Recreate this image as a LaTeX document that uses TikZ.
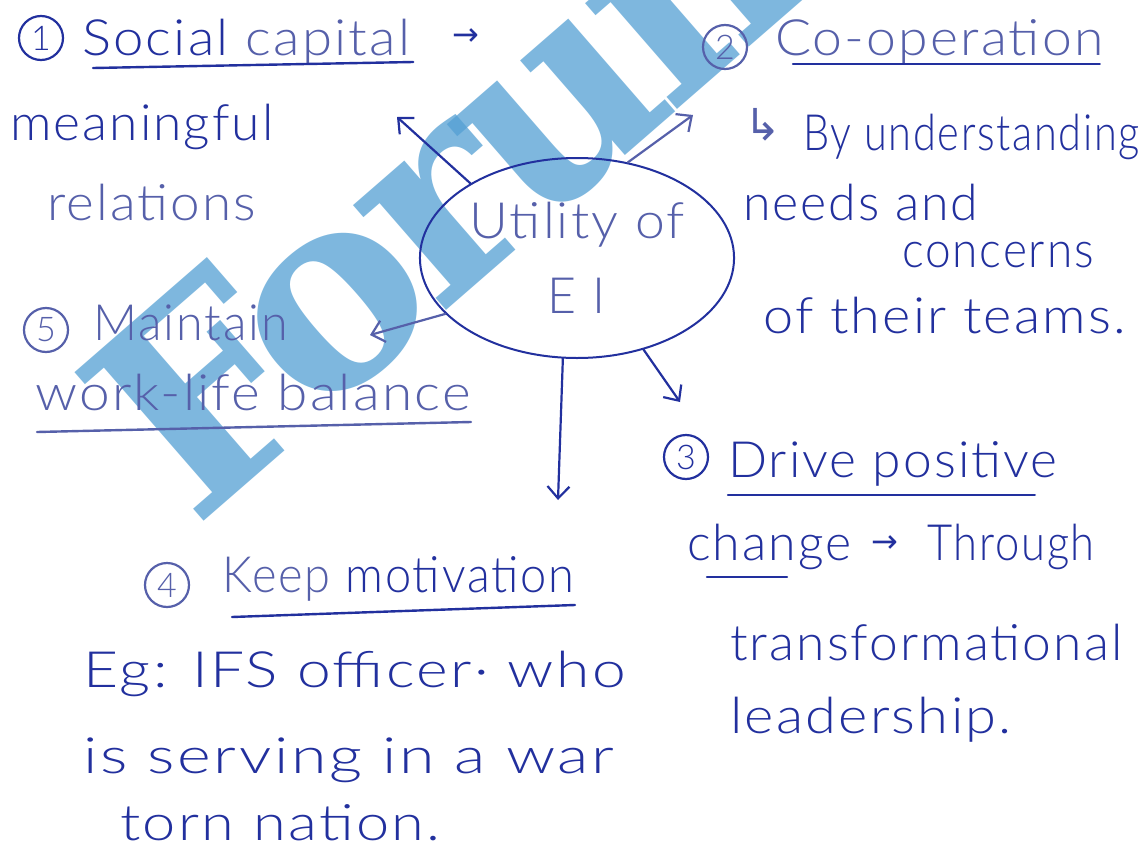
\documentclass[tikz,border=0pt]{standalone}
\usepackage{graphicx}
\usepackage{fontspec}
\setmainfont{Lato Light}[LetterSpace=4]
\newfontfamily\symfont{DejaVu Sans}
\newfontfamily\markfont{DejaVu Serif}
\usetikzlibrary{shapes.geometric,arrows.meta,positioning}
\definecolor{ink}{RGB}{34,48,158}
\definecolor{pencil}{RGB}{86,96,170}
\definecolor{mark}{RGB}{84,160,212}
\newcommand{\stretchx}[2]{\scalebox{#1}[1]{#2}}
\tikzset{
  hand/.style={text=ink, font=\fontsize{50}{56}\selectfont, inner sep=0pt, anchor=base west},
  soft/.style={hand, text=pencil},
  numc/.style={circle, draw=ink, line width=2.2pt, minimum size=44pt, inner sep=0pt,
    text=ink, font=\fontsize{34}{34}\selectfont},
  uline/.style={draw=ink, line width=2.4pt, line cap=round},
  conn/.style={draw=ink, line width=2.2pt, line cap=round,
    -{Straight Barb[length=12pt,width=22pt,line width=2.2pt]}},
}
\begin{document}
\begin{tikzpicture}[x=1pt,y=-1pt]
    \useasboundingbox (0,0) rectangle (1144,854);
    \fill[white] (0,0) rectangle (1144,854);

    % watermark
    \begin{scope}
        \clip (0,0) rectangle (1144,854);
        \node[text=mark, opacity=.75, inner sep=0pt, anchor=base west, rotate=41,
              font=\markfont\bfseries\fontsize{270}{270}\selectfont\addfontfeature{LetterSpace=-6}]
              (wm) at (194,530) {Forum};
    \end{scope}

    % centre
    \node[ellipse, draw=ink, line width=2pt, minimum width=274pt, minimum height=200pt,
          align=center, text=pencil, font=\fontsize{50}{75}\selectfont] (util) at (577,258)
          {\stretchx{1.07}{Utility of}\\E\kern16pt I};

    % left column
    \node[numc] (n1)    at (41,38)   {1};
    \node[hand] (soc)   at (82,55)   {\stretchx{1.09}{Social \textcolor{pencil}{capital}}};
    \node[hand, font=\symfont\fontsize{32}{32}\selectfont] (socar) at (452,45) {→};
    \node[hand] (mean)  at (10,140)  {\stretchx{1.03}{meaningful}};
    \node[soft] (rel)   at (47,220)  {\stretchx{1.06}{relations}};
    \node[numc, text=pencil, draw=pencil] (n5) at (46,330) {5};
    \node[soft] (maint) at (93,340)  {\stretchx{0.97}{Maintain}};
    \node[soft] (wlb)   at (35,410)  {\stretchx{1.1}{work-life balance}};
    \node[numc, text=pencil, draw=pencil] (n4) at (167,585) {4};
    \node[hand] (keep)  at (222,592) {\stretchx{0.94}{\textcolor{pencil}{Keep} motivation}};
    \node[hand] (eg)    at (83,687)  {\stretchx{1.21}{Eg: IFS officer· who}};
    \node[hand] (serv)  at (83,773)  {\stretchx{1.29}{is serving in a war}};
    \node[hand] (torn)  at (120,840) {\stretchx{1.19}{torn nation.}};

    % right column
    \node[numc, text=pencil, draw=pencil] (n2) at (725,47) {2};
    \node[soft] (coop)  at (775,55)  {\stretchx{1.07}{Co-operation}};
    \node[hand, text=pencil, font=\symfont\fontsize{44}{44}\selectfont] (hook) at (744,140) {↳};
    \node[hand] (by)    at (803,150) {\stretchx{0.83}{By understanding}};
    \node[hand] (needs) at (743,220) {needs and};
    \node[hand] (conc)  at (902,267) {\stretchx{0.92}{concerns}};
    \node[hand] (their) at (763,333) {\stretchx{1.08}{of their teams.}};
    \node[numc] (n3)    at (686,457) {3};
    \node[hand] (drive) at (728,477) {\stretchx{1.03}{Drive positive}};
    \node[hand] (chg)   at (687,560) {change};
    \node[hand, font=\symfont\fontsize{32}{32}\selectfont] (chgar) at (871,552) {→};
    \node[hand] (thr)   at (927,560) {\stretchx{0.87}{Through}};
    \node[hand] (trans) at (730,660) {\stretchx{1.03}{transformational}};
    \node[hand] (lead)  at (730,733) {\stretchx{1.12}{leadership.}};

    % underlines
    \draw[uline] ([xshift=11pt,yshift=-13pt]soc.base west) -- ([xshift=3pt,yshift=-7pt]soc.base east);
    \draw[uline] ([xshift=18pt,yshift=-9pt]coop.base west) -- ([xshift=-4pt,yshift=-9pt]coop.base east);
    \draw[uline, draw=pencil] ([xshift=2pt,yshift=-22pt]wlb.base west) -- ([yshift=-12pt]wlb.base east);
    \draw[uline] ([yshift=-18pt]drive.base west) -- ([xshift=-23pt,yshift=-18pt]drive.base east);
    \draw[uline] ([xshift=20pt,yshift=-17pt]chg.base west) -- ([xshift=100pt,yshift=-17pt]chg.base west);
    \draw[uline] ([xshift=10pt,yshift=-25pt]keep.base west) -- ([yshift=-13pt]keep.base east);

    % connectors
    \coordinate (tA) at (397,117);
    \coordinate (tB) at (693,115);
    \coordinate (tC) at (680,402);
    \coordinate (tD) at (558,500);
    \coordinate (tE) at (370,335);
    \draw[conn] (util.145) -- (tA);
    \draw[conn, draw=pencil] (util.62) -- (tB);
    \draw[conn] (util.306) -- (tC);
    \draw[conn] (util.262) -- (tD);
    \draw[conn, draw=pencil] (util.203) -- (tE);
\end{tikzpicture}
\end{document}
